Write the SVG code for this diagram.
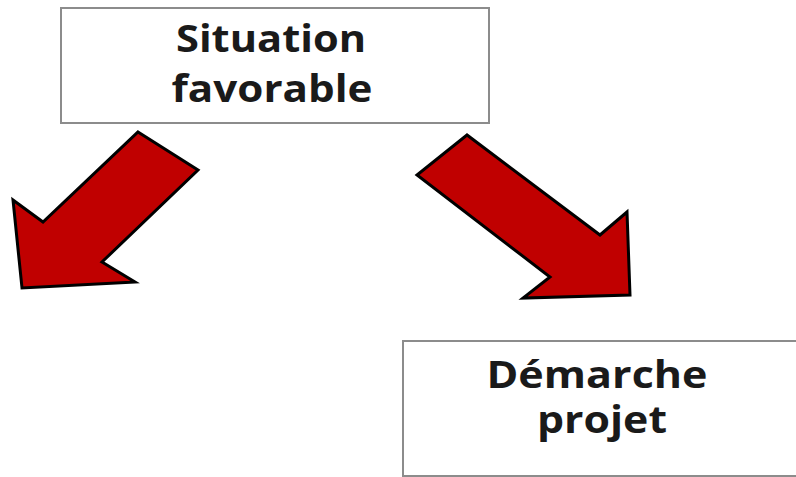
<svg xmlns="http://www.w3.org/2000/svg" width="796" height="477" viewBox="0 0 796 477">
<style>
.box{fill:#fff;stroke:#8c8c8c;stroke-width:2}
.lbl{font-family:"Open Sans","Liberation Sans",sans-serif;font-weight:bold;font-size:37px;fill:#1a1a1a;text-anchor:middle}
.arrow{fill:#c00000;stroke:#000;stroke-width:3;stroke-linejoin:miter}
</style>
<rect width="796" height="477" fill="#fff"/>
<g id="situation">
<rect class="box" x="61" y="8" width="428" height="115"/>
<text class="lbl"><tspan x="271" y="52" textLength="190" lengthAdjust="spacingAndGlyphs">Situation</tspan><tspan x="272" y="102" textLength="201" lengthAdjust="spacingAndGlyphs">favorable</tspan></text>
</g>
<g id="demarche">
<rect class="box" x="403" y="341" width="400" height="135"/>
<text class="lbl"><tspan x="597" y="388" textLength="221" lengthAdjust="spacingAndGlyphs">Démarche</tspan><tspan x="602" y="433" textLength="130" lengthAdjust="spacingAndGlyphs">projet</tspan></text>
</g>
<g id="connectors">
<polygon class="arrow" points="138,132 198,170 102,262 135,282 22,288 13,200 43,222"/>
<polygon class="arrow" points="467,135 417,175 550,277 523,298 630,295 627,212 600,235"/>
</g>
</svg>
